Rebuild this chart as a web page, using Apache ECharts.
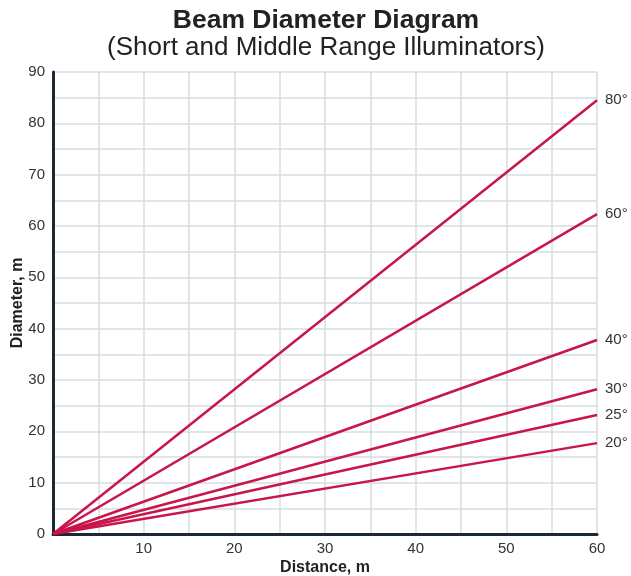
<!DOCTYPE html>
<html>
<head>
<meta charset="utf-8">
<script src="https://cdn.jsdelivr.net/npm/echarts@6/dist/echarts.min.js"></script>
<style>
  html, body { margin: 0; padding: 0; background: #fff; }
  #main { width: 631px; height: 576px; }
</style>
</head>
<body>
<div id="main"></div>
<script>
// 光束角度及 60 m 处的直径
var angleNames = ['80°', '60°', '40°', '30°', '25°', '20°']
var distances = [0, 60]
var diameterAt60 = [84.5, 62.3, 37.8, 28.2, 23.2, 17.7]

var lineColor = '#c8164a'
var font = 'Liberation Sans, Arial, sans-serif'

var series = angleNames.map(function (name, i) {
    return {
        name: name,
        type: 'line',
        symbol: 'none',
        lineStyle: { color: lineColor, width: 2.5 },
        // 线末端的角度标签
        endLabel: {
            show: true,
            distance: 8,
            formatter: name,
            color: '#333',
            fontSize: 15,
            fontFamily: font
        },
        data: [
            [distances[0], 0],
            [distances[1], diameterAt60[i]]
        ],
        z: 3
    }
})

var myChart = echarts.init(document.getElementById('main'))
var option = {
    animation: false,
    title: [
        {
            text: 'Beam Diameter Diagram',
            left: 321,
            textAlign: 'center',
            top: 2,
            textStyle: { color: '#222', fontSize: 26.5, fontWeight: 'bold', fontFamily: font }
        },
        {
            text: '(Short and Middle Range Illuminators)',
            left: 321,
            textAlign: 'center',
            top: 30,
            textStyle: { color: '#222', fontSize: 26, fontWeight: 'normal', fontFamily: font }
        }
    ],
    grid: { left: 53, right: 34, top: 72, bottom: 42, outerBoundsMode: 'none' },
    xAxis: {
        type: 'value',
        min: 0,
        max: 60,
        interval: 5,
        name: 'Distance, m',
        nameLocation: 'middle',
        nameGap: 26,
        nameMoveOverlap: false,
        nameTextStyle: { color: '#222', fontSize: 16, fontWeight: 'bold', fontFamily: font },
        axisLine: { show: true, onZero: false, lineStyle: { color: '#1c2833', width: 3 } },
        axisTick: { show: false },
        axisLabel: {
            color: '#333',
            fontSize: 15,
            margin: 7,
            fontFamily: font,
            formatter: function (v) { return (v > 0 && v % 10 === 0) ? String(v) : '' }
        },
        splitLine: { show: true, lineStyle: { color: '#d5dce4', width: 1.5 } }
    },
    yAxis: {
        type: 'value',
        min: 0,
        max: 90,
        interval: 5,
        name: 'Diameter, m',
        nameLocation: 'middle',
        nameGap: 27,
        nameMoveOverlap: false,
        nameTextStyle: { color: '#222', fontSize: 16, fontWeight: 'bold', fontFamily: font },
        axisLine: { show: true, onZero: false, lineStyle: { color: '#1c2833', width: 3 } },
        axisTick: { show: false },
        axisLabel: {
            color: '#333',
            fontSize: 15,
            margin: 8,
            fontFamily: font,
            formatter: function (v) { return v % 10 === 0 ? String(v) : '' }
        },
        splitLine: { show: true, lineStyle: { color: '#d5dce4', width: 1.5 } }
    },
    series: series
}
myChart.setOption(option)
</script>
</body>
</html>
